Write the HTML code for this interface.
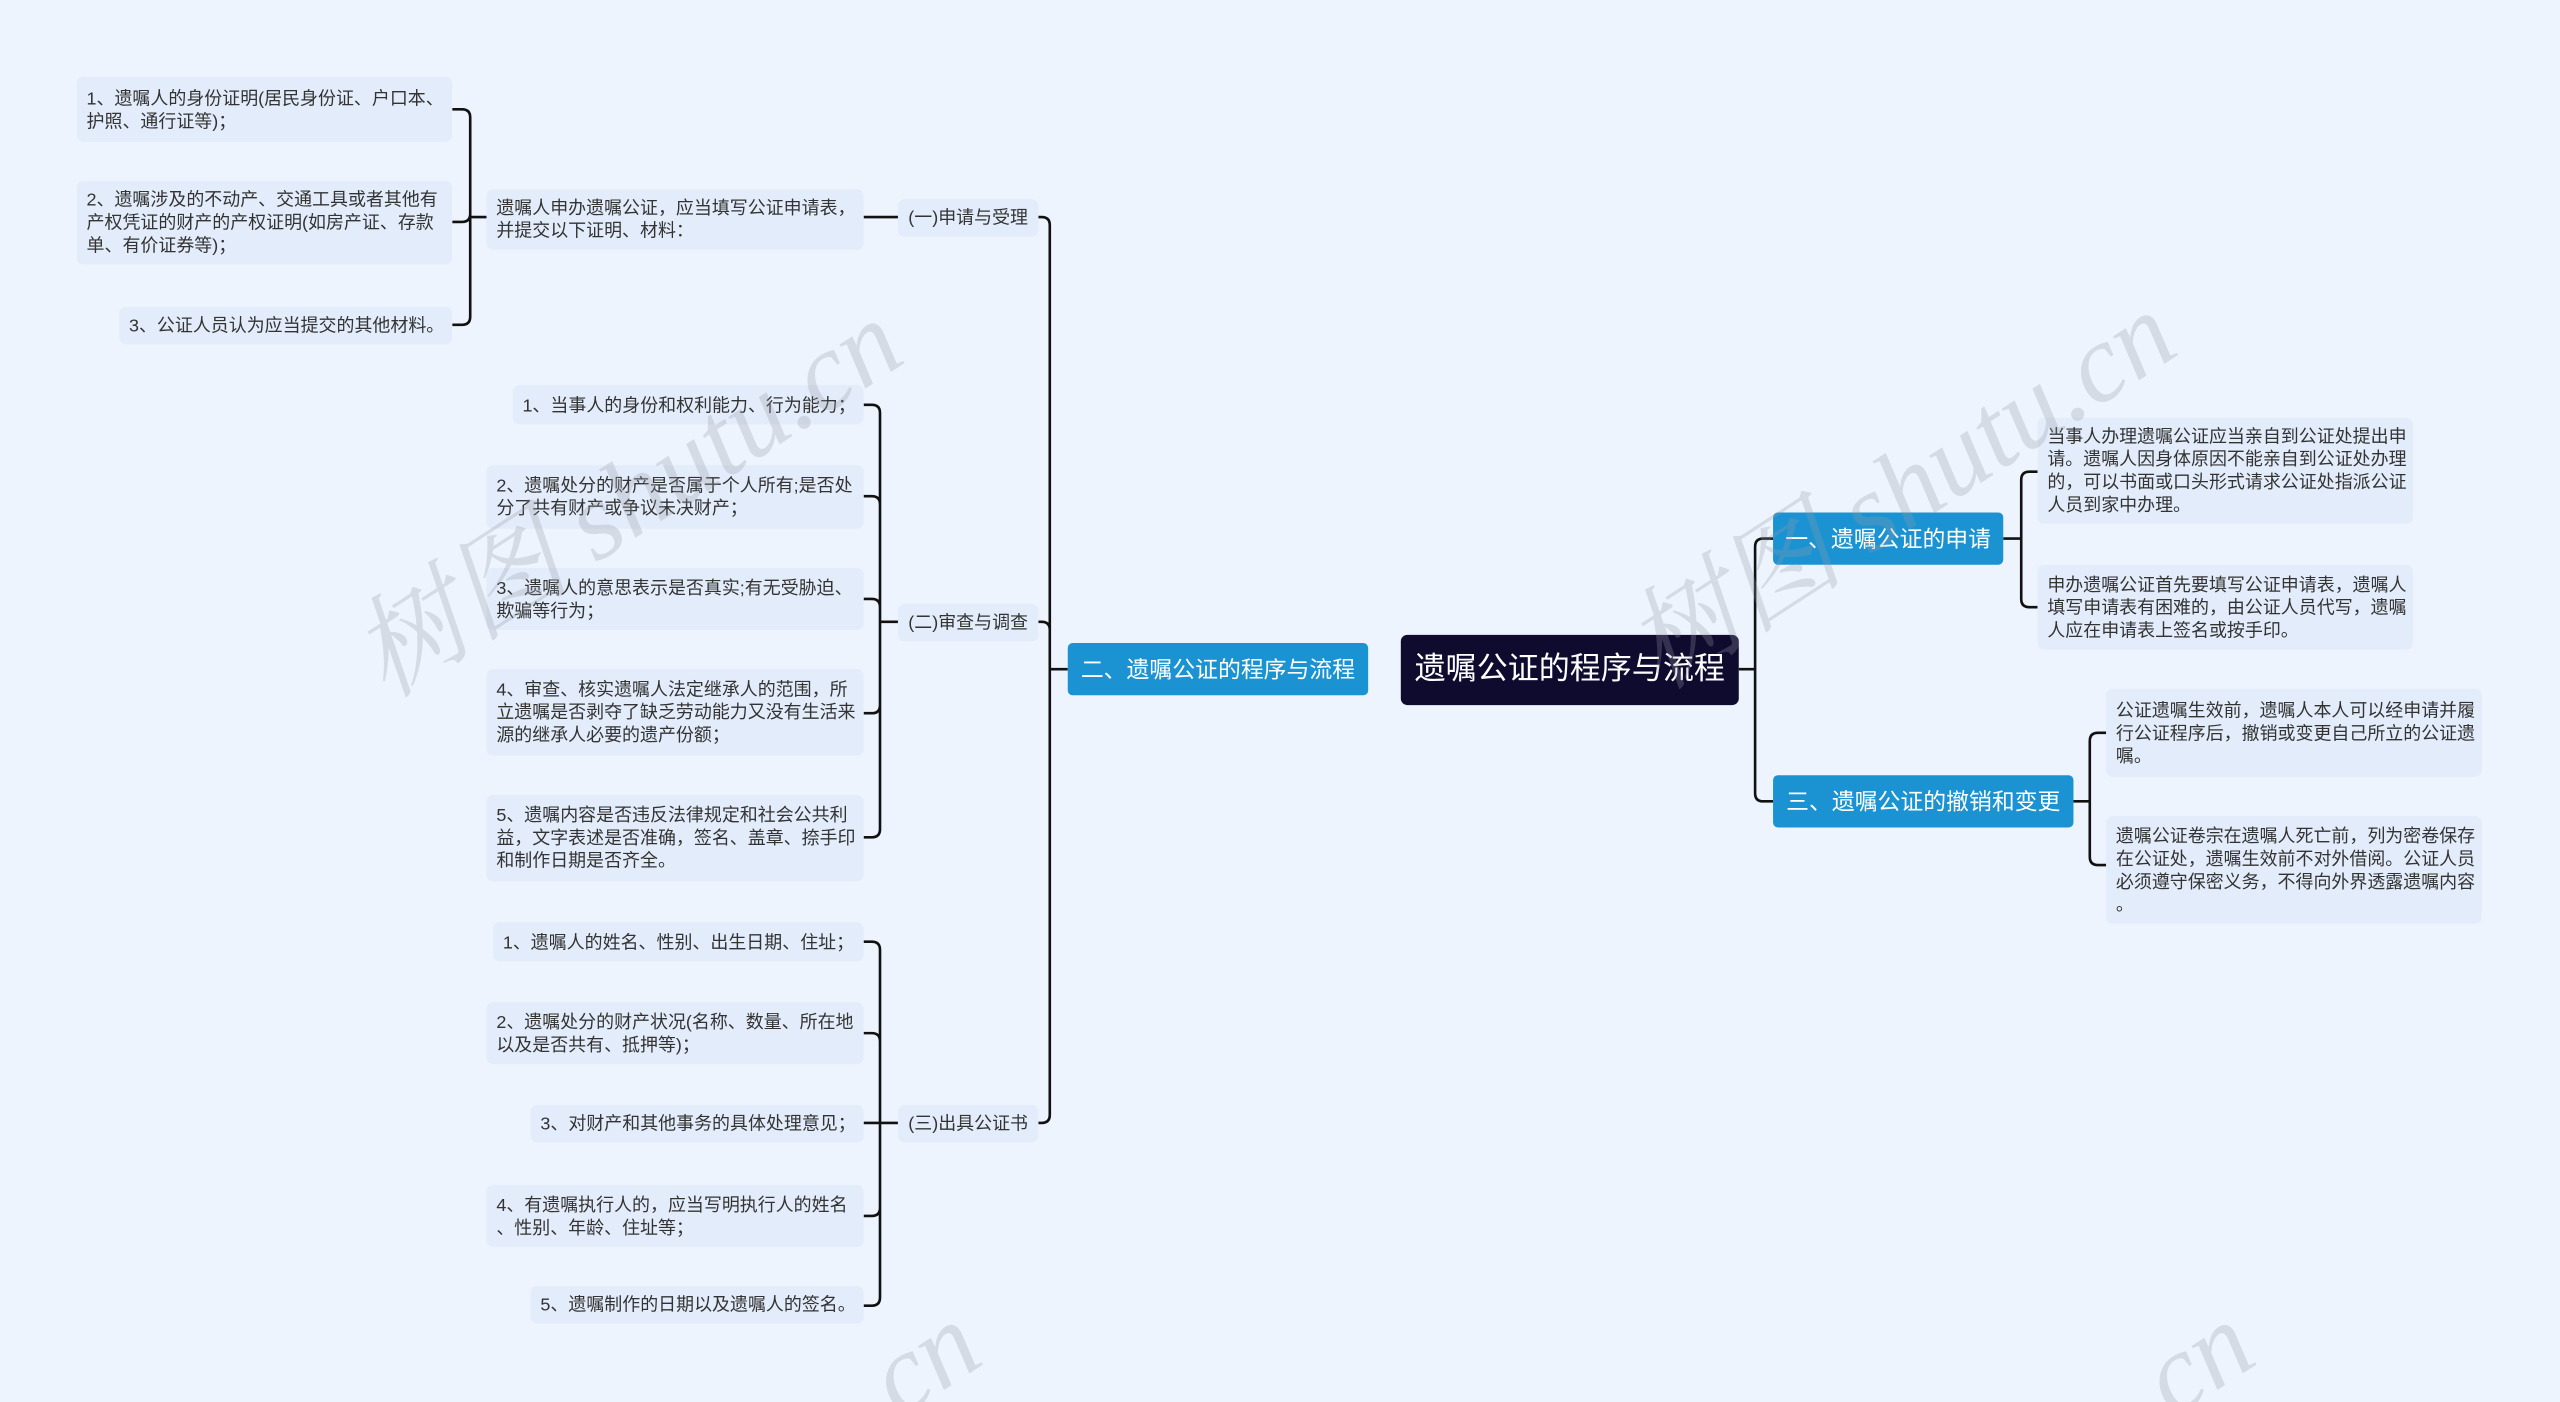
<!DOCTYPE html>
<html><head><meta charset="utf-8">
<style>
html,body{margin:0;padding:0;background:#eef4fd;overflow:hidden;width:2560px;height:1402px;}
#wrap{position:relative;width:1568px;height:859px;transform:scale(1.63265,1.6321);transform-origin:0 0;overflow:hidden;
font-family:"Liberation Sans","Noto Sans CJK SC",sans-serif;}
.n{position:absolute;display:flex;align-items:center;box-sizing:border-box;padding:0 6px;background:#e3ecfa;border-radius:4px;
font-size:11px;line-height:14px;color:#333;white-space:nowrap;padding-top:1px;}
.s{justify-content:center;padding:0;padding-top:1px;}
.b{background:#1b93d3;color:#fff;font-size:14px;justify-content:center;border-radius:3px;padding:0;}
.r{background:#0e0b2f;color:#fff;font-size:19px;justify-content:center;border-radius:4px;padding:0;}
svg{position:absolute;left:0;top:0;}
.wm{position:absolute;font-size:68px;line-height:70px;color:rgba(150,155,165,0.28);transform:rotate(-33deg);transform-origin:0 0;white-space:nowrap;font-family:"Liberation Serif","Noto Serif CJK SC",serif;font-style:italic;}
</style></head><body>
<div id="wrap">
<svg id="lines" width="1568" height="859"></svg>

<div class="n r" style="left:858px;top:389px;width:207px;height:43px">遗嘱公证的程序与流程</div>
<div class="n b" style="left:654px;top:394px;width:184px;height:32px">二、遗嘱公证的程序与流程</div>
<div class="n b" style="left:1086px;top:314px;width:141px;height:32px">一、遗嘱公证的申请</div>
<div class="n b" style="left:1086px;top:475px;width:184px;height:32px">三、遗嘱公证的撤销和变更</div>

<div class="n" style="left:1248px;top:256px;width:230px;height:65px">当事人办理遗嘱公证应当亲自到公证处提出申<br>请。遗嘱人因身体原因不能亲自到公证处办理<br>的，可以书面或口头形式请求公证处指派公证<br>人员到家中办理。</div>
<div class="n" style="left:1248px;top:346px;width:230px;height:52px">申办遗嘱公证首先要填写公证申请表，遗嘱人<br>填写申请表有困难的，由公证人员代写，遗嘱<br>人应在申请表上签名或按手印。</div>
<div class="n" style="left:1290px;top:422px;width:230px;height:54px">公证遗嘱生效前，遗嘱人本人可以经申请并履<br>行公证程序后，撤销或变更自己所立的公证遗<br>嘱。</div>
<div class="n" style="left:1290px;top:500px;width:230px;height:66px">遗嘱公证卷宗在遗嘱人死亡前，列为密卷保存<br>在公证处，遗嘱生效前不对外借阅。公证人员<br>必须遵守保密义务，不得向外界透露遗嘱内容<br>。</div>

<div class="n s" style="left:550px;top:122px;width:86px;height:23px">(一)申请与受理</div>
<div class="n s" style="left:550px;top:370px;width:86px;height:23px">(二)审查与调查</div>
<div class="n s" style="left:550px;top:677px;width:86px;height:23px">(三)出具公证书</div>

<div class="n" style="left:298px;top:116px;width:231px;height:37px">遗嘱人申办遗嘱公证，应当填写公证申请表，<br>并提交以下证明、材料：</div>
<div class="n" style="left:47px;top:47px;width:230px;height:40px">1、遗嘱人的身份证明(居民身份证、户口本、<br>护照、通行证等)；</div>
<div class="n" style="left:47px;top:111px;width:230px;height:51px">2、遗嘱涉及的不动产、交通工具或者其他有<br>产权凭证的财产的产权证明(如房产证、存款<br>单、有价证券等)；</div>
<div class="n" style="left:73px;top:188px;width:204px;height:23px">3、公证人员认为应当提交的其他材料。</div>

<div class="n" style="left:314px;top:236px;width:215px;height:24px">1、当事人的身份和权利能力、行为能力；</div>
<div class="n" style="left:298px;top:285px;width:231px;height:39px">2、遗嘱处分的财产是否属于个人所有;是否处<br>分了共有财产或争议未决财产；</div>
<div class="n" style="left:298px;top:348px;width:231px;height:38px">3、遗嘱人的意思表示是否真实;有无受胁迫、<br>欺骗等行为；</div>
<div class="n" style="left:298px;top:410px;width:231px;height:53px">4、审查、核实遗嘱人法定继承人的范围，所<br>立遗嘱是否剥夺了缺乏劳动能力又没有生活来<br>源的继承人必要的遗产份额；</div>
<div class="n" style="left:298px;top:487px;width:231px;height:53px">5、遗嘱内容是否违反法律规定和社会公共利<br>益，文字表述是否准确，签名、盖章、捺手印<br>和制作日期是否齐全。</div>

<div class="n" style="left:302px;top:565px;width:227px;height:24px">1、遗嘱人的姓名、性别、出生日期、住址；</div>
<div class="n" style="left:298px;top:614px;width:231px;height:38px">2、遗嘱处分的财产状况(名称、数量、所在地<br>以及是否共有、抵押等)；</div>
<div class="n" style="left:325px;top:677px;width:204px;height:23px">3、对财产和其他事务的具体处理意见；</div>
<div class="n" style="left:298px;top:726px;width:231px;height:38px">4、有遗嘱执行人的，应当写明执行人的姓名<br>、性别、年龄、住址等；</div>
<div class="n" style="left:325px;top:788px;width:204px;height:23px">5、遗嘱制作的日期以及遗嘱人的签名。</div>

<div class="wm" style="left:205px;top:380px">树图 shutu.cn</div>
<div class="wm" style="left:985px;top:375px">树图 shutu.cn</div>
<div class="wm" style="left:505px;top:830px">.cn</div>
<div class="wm" style="left:1285px;top:830px">.cn</div>
</div>
<script>
var d='';
function br(px,py,vx,ends){
  d+='M'+px+' '+py+' H'+vx;
  ends.forEach(function(e){
    var cx=e[0],cy=e[1],r=5,s=cy>py?1:(cy<py?-1:0),dd=cx>vx?1:-1;
    if(s==0){d+=' M'+vx+' '+cy+' H'+cx;return;}
    d+=' M'+vx+' '+py+' V'+(cy-s*r)+' Q'+vx+' '+cy+' '+(vx+dd*r)+' '+cy+' H'+cx;
  });
  d+=' ';
}
br(1065,410,1075,[[1086,330],[1086,491]]);
br(1227,330,1238,[[1248,289],[1248,372]]);
br(1270,491,1280,[[1290,449],[1290,530]]);
br(654,410,643,[[636,133],[636,381],[636,688]]);
br(550,133,529,[[529,133]]);
br(298,133,288,[[277,67],[277,136],[277,199]]);
br(550,381,539,[[529,248],[529,304],[529,367],[529,437],[529,513]]);
br(550,688,539,[[529,577],[529,633],[529,688],[529,745],[529,800]]);
document.getElementById('lines').innerHTML='<path d="'+d+'" fill="none" stroke="#111" stroke-width="1.6"/>';
</script>
</body></html>
